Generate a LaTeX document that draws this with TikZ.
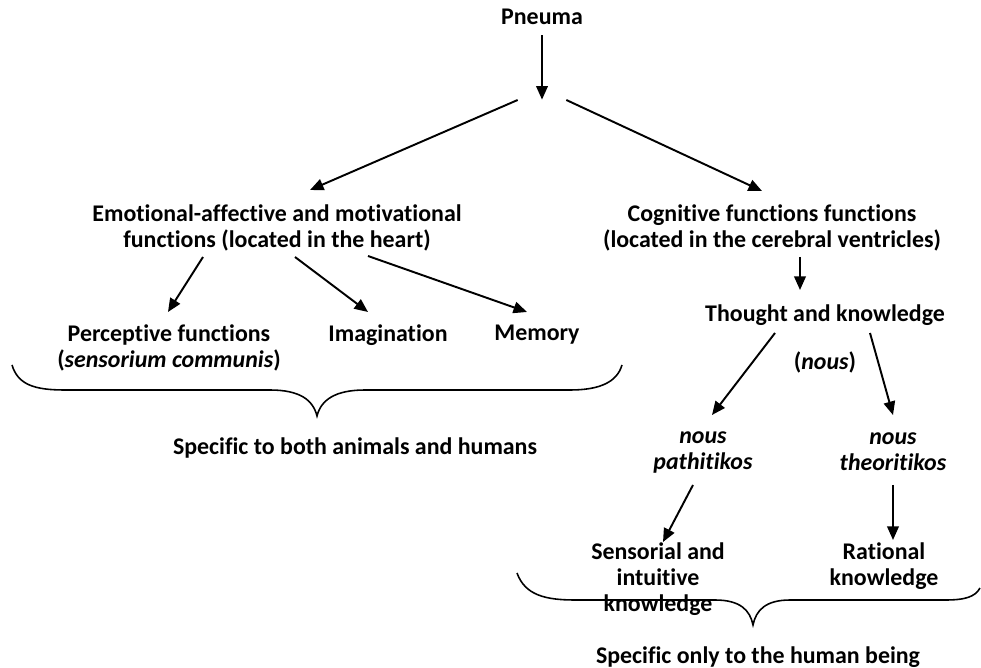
\documentclass[tikz,border=0pt]{standalone}
\usepackage{fontspec}
\setmainfont[Ligatures=NoCommon]{Carlito}
\usepackage{tikz}
\usetikzlibrary{arrows.meta,calc}
\tikzset{
  txt/.style={font=\fontsize{13.6pt}{14.8pt}\selectfont\bfseries, align=center, inner sep=0pt},
  arrow/.style={-{Triangle[length=2.7mm, width=2.3mm]}, line width=1.1pt, draw=black},
  bracepath/.style={line width=0.9pt, draw=black}
}

\begin{document}
\begin{tikzpicture}[x=0.2mm, y=-0.2mm]
\useasboundingbox (0,0) rectangle (981,668);
\node[txt] (pneuma) at (542,17) {Pneuma};
\node[inner sep=0pt, minimum width=9.6mm, minimum height=0pt] (fork) at (542,100) {};
\node[txt] (emo) at (277,228) {Emotional-affective and motivational\\functions (located in the heart)};
\node[txt] (cog) at (772,228) {Cognitive functions functions\\(located in the cerebral ventricles)};
\node[txt] (perc) at (169,348) {Perceptive functions\\(\textit{sensorium communis})};
\node[txt] (imag) at (388,335) {Imagination};
\node[txt] (mem) at (537,335) {Memory};
\node[txt] (thought) at (825,315) {Thought and knowledge};
\node[txt] (nous) at (825,362) {(\textit{nous})};
\node[txt] (path) at (703,452) {\textit{nous}\\\textit{pathitikos}};
\node[txt] (theo) at (893,452) {\textit{nous}\\\textit{theoritikos}};
\node[txt] (sens) at (658,579) {Sensorial and\\intuitive\\knowledge};
\node[txt] (rat) at (884,566) {Rational\\knowledge};
\node[txt] (animals) at (355,448) {Specific to both animals and humans};
\node[txt] (human) at (758,657) {Specific only to the human being};

\draw[arrow, shorten <=2mm] (pneuma) -- (fork);
\draw[arrow] (fork.west) -- ($(emo)+(33,-38)$);
\draw[arrow] (fork.east) -- ($(cog)+(-10,-37)$);

\draw[arrow] ($(emo)+(-74,29)$) -- ($(perc)+(-1,-36)$);
\draw[arrow] ($(emo)+(18,29)$) -- ($(imag)+(-20,-23)$);
\draw[arrow] ($(emo)+(91,28)$) -- ($(mem)+(-10,-23)$);

\draw[arrow] ($(cog)+(28,29)$) -- ($(thought)+(-25,-25)$);
\draw[arrow] ($(thought)+(-50,18)$) -- ($(path)+(9,-37)$);
\draw[arrow] ($(thought)+(45,18)$) -- ($(theo)+(0,-37)$);
\draw[arrow] ($(path)+(-10,33)$) -- ($(sens)+(5,-37)$);
\draw[arrow] ($(theo)+(0,33)$) -- ($(rat)+(9,-26)$);

% braces
\draw[bracepath] (12,365) .. controls (18,385) and (35,390) .. (65,390) -- (270,390)
  .. controls (300,390) and (313,400) .. (317,416)
  .. controls (321,400) and (335,390) .. (365,390) -- (570,390)
  .. controls (600,390) and (617,382) .. (622,365);
\draw[bracepath] (517,573) .. controls (525,595) and (545,600) .. (575,600) -- (715,600)
  .. controls (740,600) and (750,610) .. (753,625)
  .. controls (756,610) and (766,600) .. (790,600) -- (945,600)
  .. controls (965,600) and (975,597) .. (980,588);
\end{tikzpicture}
\end{document}
